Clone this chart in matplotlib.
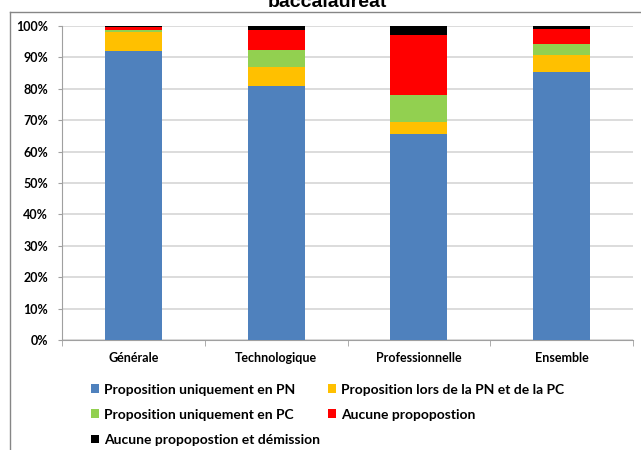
import matplotlib
matplotlib.use("Agg")
import matplotlib.pyplot as plt
from matplotlib.lines import Line2D
from matplotlib.patches import Patch
import numpy as np

# parts (in %) for each type of baccalauréat
categories = ['Générale', 'Technologique', 'Professionnelle', 'Ensemble']
uniq_pn = [92.1, 81.0, 65.5, 85.4]
pn_et_pc = [5.9, 5.8, 3.9, 5.5]
uniq_pc = [0.8, 5.6, 8.6, 3.3]
aucune = [0.8, 6.2, 19.2, 4.8]
aucune_dem = [0.4, 1.4, 2.8, 1.0]

series = [
    ('Proposition uniquement en PN', uniq_pn, '#4F81BD'),
    ('Proposition lors de la PN et de la PC', pn_et_pc, '#FFC000'),
    ('Proposition uniquement en PC', uniq_pc, '#92D050'),
    ('Aucune propopostion', aucune, '#FF0000'),
    ('Aucune propopostion et démission', aucune_dem, '#000000'),
]

plt.rcParams['font.family'] = ['Lato', 'DejaVu Sans']

fig = plt.figure(figsize=(6.41, 4.5), dpi=100)
ax = fig.add_axes([62/641, 1-340/450, (633-62)/641, (340-26)/450])

x = np.arange(len(categories))
bottom = np.zeros(len(categories))
handles = {}
for name, vals, col in series:
    ax.bar(x, vals, 0.4, bottom=bottom, color=col, zorder=3)
    handles[name] = Patch(facecolor=col)
    bottom += np.array(vals)

ax.set_xlim(-0.5, 3.5)
ax.set_ylim(0, 100)
ax.set_yticks(np.arange(0, 101, 10))
ax.set_yticklabels([f'{v}%' for v in range(0, 101, 10)], fontsize=9, fontweight='bold')
ax.yaxis.grid(True, color='#d9d9d9', linewidth=1.3, zorder=0)
ax.set_axisbelow(True)

ax.set_xticks(x)
ax.set_xticklabels(categories, fontsize=9, fontweight='bold')
ax.tick_params(axis='x', length=0, pad=9)
ax.set_xticks(np.arange(-0.5, 4, 1), minor=True)
ax.tick_params(axis='x', which='minor', length=4, color='#a0a0a0', direction='out')
ax.tick_params(axis='y', length=3, color='#a0a0a0', pad=7)

for s in ['top', 'right']:
    ax.spines[s].set_visible(False)
ax.spines['left'].set_color('#a0a0a0')
ax.spines['bottom'].set_color('#a0a0a0')

# legend: column 1 = PN, PC, démission ; column 2 = lors, aucune
order = ['Proposition uniquement en PN', 'Proposition uniquement en PC',
         'Aucune propopostion et démission',
         'Proposition lors de la PN et de la PC', 'Aucune propopostion']
fig.legend([handles[k] for k in order], order, ncol=2,
           loc='upper left', bbox_to_anchor=(78/641, 1-371/450),
           frameon=False, handlelength=0.6, handleheight=0.6,
           handletextpad=0.35, columnspacing=0.6, labelspacing=0.95,
           prop={'size': 10, 'weight': 'bold'})

# chart frame and cut title
fig.add_artist(Line2D([10/641, 10/641], [0, 1-12/450], color='#868686', lw=1))
fig.add_artist(Line2D([10/641, 1], [1-12/450, 1-12/450], color='#868686', lw=1))
fig.text(327/641, 1-7/450, 'baccalauréat', ha='center', va='baseline',
         fontsize=14, fontweight='bold', family='Liberation Sans')

fig.savefig('out.png', dpi=100)
